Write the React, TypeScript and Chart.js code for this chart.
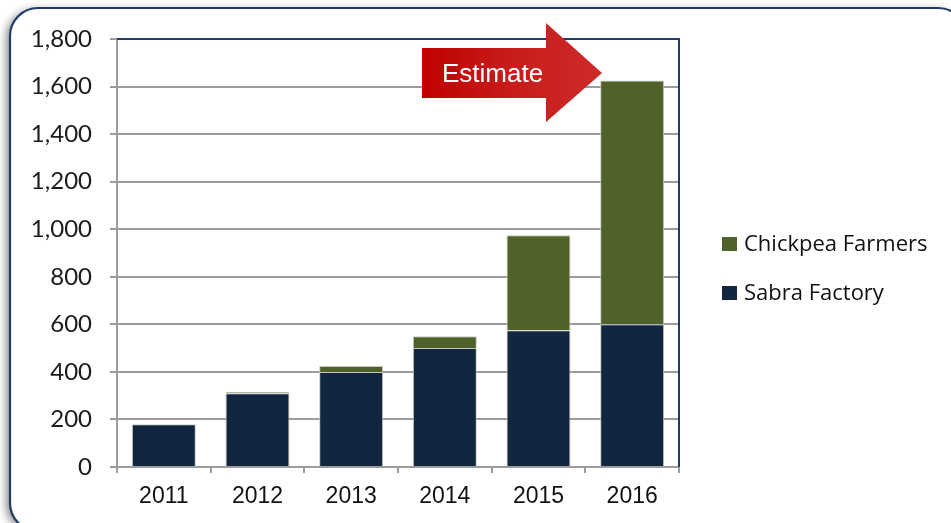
import React, { useEffect, useRef } from "react";
import { Chart, registerables } from "chart.js";

Chart.register(...registerables);

const categories = ["2011", "2012", "2013", "2014", "2015", "2016"];
const sabraFactory = [180, 310, 400, 500, 575, 600];
const chickpeaFarmers = [0, 5, 25, 50, 400, 1025];
const yTicks = [0, 200, 400, 600, 800, 1000, 1200, 1400, 1600, 1800];
const arrowLabel = "Estimate";

const NAVY = "#13263F";
const GREEN = "#50622A";
const FRAME = "#1F3B66";
const GRID = "#9c9c9c";

const framePlugin = {
  id: "framePlugin",
  beforeDraw(chart: any) {
    const ctx = chart.ctx;
    const x = 10, y = 8, w = 956, h = 523, r = 28;
    ctx.save();
    ctx.fillStyle = "#ffffff";
    ctx.fillRect(0, 0, chart.width, chart.height);
    ctx.beginPath();
    ctx.moveTo(x + r, y);
    ctx.lineTo(x + w - r, y);
    ctx.arcTo(x + w, y, x + w, y + r, r);
    ctx.lineTo(x + w, y + h - r);
    ctx.arcTo(x + w, y + h, x + w - r, y + h, r);
    ctx.lineTo(x + r, y + h);
    ctx.arcTo(x, y + h, x, y + h - r, r);
    ctx.lineTo(x, y + r);
    ctx.arcTo(x, y, x + r, y, r);
    ctx.closePath();
    ctx.shadowColor = "rgba(0,0,0,0.45)";
    ctx.shadowBlur = 9;
    ctx.shadowOffsetX = -4;
    ctx.shadowOffsetY = 2;
    ctx.fillStyle = "#ffffff";
    ctx.fill();
    ctx.shadowColor = "transparent";
    ctx.lineWidth = 2.2;
    ctx.strokeStyle = FRAME;
    ctx.stroke();
    ctx.restore();
  },
  afterDraw(chart: any) {
    const ctx = chart.ctx;
    const a = chart.chartArea;
    ctx.save();
    // plot area top/right border
    ctx.strokeStyle = FRAME;
    ctx.lineWidth = 2;
    ctx.beginPath();
    ctx.moveTo(a.left, a.top);
    ctx.lineTo(a.right, a.top);
    ctx.lineTo(a.right, a.bottom);
    ctx.stroke();

    // legend (reverse order)
    const ds = chart.data.datasets;
    const rows = [ds[1], ds[0]];
    ctx.font = "22px 'Open Sans'";
    ctx.textBaseline = "middle";
    ctx.textAlign = "left";
    rows.forEach((d: any, i: number) => {
      const cy = 244 + i * 49;
      ctx.fillStyle = d.backgroundColor;
      ctx.fillRect(722, cy - 7, 15, 14);
      ctx.fillStyle = "#111111";
      ctx.fillText(d.label, 744, cy + 1);
    });

    // estimate arrow
    const bx0 = 422, bx1 = 546, by0 = 48, by1 = 98;
    const hy0 = 23, hy1 = 122, tipX = 602, tipY = 73;
    const g = ctx.createLinearGradient(bx0, 0, tipX, 0);
    g.addColorStop(0, "#C00000");
    g.addColorStop(0.5, "#C81C1C");
    g.addColorStop(1, "#CE2A2A");
    ctx.fillStyle = g;
    ctx.beginPath();
    ctx.moveTo(bx0, by0);
    ctx.lineTo(bx1, by0);
    ctx.lineTo(bx1, hy0);
    ctx.lineTo(tipX, tipY);
    ctx.lineTo(bx1, hy1);
    ctx.lineTo(bx1, by1);
    ctx.lineTo(bx0, by1);
    ctx.closePath();
    ctx.fill();
    ctx.fillStyle = "#ffffff";
    ctx.font = "26px 'Liberation Sans', Arial";
    ctx.textAlign = "left";
    ctx.textBaseline = "alphabetic";
    ctx.fillText(arrowLabel, 442, 82);
    ctx.restore();
  },
};

export default function App() {
  const ref = useRef<HTMLCanvasElement | null>(null);
  useEffect(() => {
    if (!ref.current) return;
    const chart = new Chart(ref.current, {
      type: "bar",
      data: {
        labels: categories,
        datasets: [
          {
            label: "Sabra Factory",
            data: sabraFactory,
            backgroundColor: NAVY,
            borderColor: "#c4c8bf",
            borderWidth: 1,
            barPercentage: 0.683,
            categoryPercentage: 1,
          },
          {
            label: "Chickpea Farmers",
            data: chickpeaFarmers,
            backgroundColor: GREEN,
            borderColor: "#c4c8bf",
            borderWidth: 1,
            barPercentage: 0.683,
            categoryPercentage: 1,
          },
        ],
      },
      options: {
        responsive: false,
        animation: false,
        layout: { padding: { left: 0, top: 39, right: 272, bottom: 0 } },
        plugins: {
          legend: { display: false },
          tooltip: { enabled: false },
        },
        scales: {
          x: {
            stacked: true,
            offset: true,
            grid: {
              display: true,
              drawOnChartArea: false,
              drawTicks: true,
              tickLength: 6,
              offset: true,
              color: GRID,
              lineWidth: 2,
            },
            border: { display: true, color: GRID, width: 2 },
            ticks: {
              color: "#111111",
              font: { family: "'Liberation Sans', Arial", size: 23 },
              padding: 10,
            },
            afterFit: (s: any) => {
              s.height = 56;
            },
          },
          y: {
            stacked: true,
            min: 0,
            max: 1800,
            afterBuildTicks: (s: any) => {
              s.ticks = yTicks.map((v) => ({ value: v }));
            },
            grid: {
              color: GRID,
              lineWidth: 2,
              tickLength: 7,
            },
            border: { display: true, color: GRID, width: 2 },
            ticks: {
              color: "#1a1a1a",
              font: { family: "Lato", size: 24 },
              padding: 18,
              callback: (v: any) => Number(v).toLocaleString("en-US"),
            },
            afterFit: (s: any) => {
              s.width = 117;
            },
          },
        },
      },
      plugins: [framePlugin],
    });
    return () => chart.destroy();
  }, []);
  return (
    <div style={{ position: "fixed", left: 0, top: 0, width: 951, height: 523 }}>
      <canvas ref={ref} width={951} height={523} style={{ display: "block" }} />
    </div>
  );
}
